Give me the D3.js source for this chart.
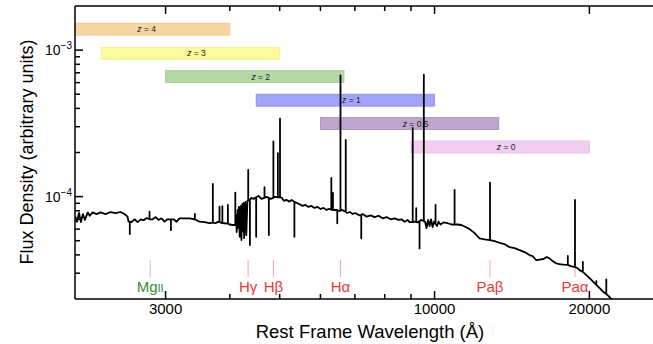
<!DOCTYPE html>
<html>
<head>
<meta charset="utf-8">
<script src="https://cdn.jsdelivr.net/npm/d3@7"></script>
<style>
  body { margin: 0; background: #fff; }
  text { font-family: "Liberation Sans", Arial, Helvetica, sans-serif; }
</style>
</head>
<body>
<div id="chart"></div>
<script>
var width = 653;
var height = 344;

// flux values below are in units of 1e-4
var fluxUnit = 1e-4;

// continuum of the spectrum (wavelength in A)
var specWave = [2000, 2018, 2036, 2054, 2072, 2091, 2118, 2136, 2164, 2203, 2242, 2293, 2345, 2398, 2451, 2495, 2530, 2541,
  2575, 2610, 2647, 2683, 2719, 2756, 2831, 2870, 2907, 2946, 2986, 3027, 3109, 3152, 3193, 3252, 3340, 3415, 3492,
  3572, 3653, 3752, 3800, 3907, 3995, 4054, 4114, 4124, 4143, 4152, 4166, 4180, 4199, 4213, 4229, 4238, 4252, 4264,
  4288, 4306, 4327, 4362, 4403, 4449, 4547, 4610, 4713, 4801, 4885, 5050, 5095, 5148, 5225, 5274, 5392, 5464, 5537,
  5612, 5688, 5765, 5843, 5922, 6003, 6084, 6166, 6222, 6394, 6507, 6610, 6657, 6754, 6847, 6930, 7006, 7148, 7245,
  7380, 7511, 7647, 7785, 7926, 8068, 8214, 8362, 8513, 8628, 8744, 8862, 8942, 9145, 9268, 9413, 9583, 9648, 9713,
  9779, 9845, 9911, 9978, 10113, 10181, 10273, 10411, 10599, 10791, 11084, 11277, 11492, 11696, 11962, 12233, 12510,
  13082, 13377, 13680, 13990, 14305, 14630, 14960, 15300, 15505, 15765, 16000, 16290, 16510, 16735, 16960, 17244,
  17500, 17810, 18380, 18960, 19137, 19750, 20110, 20480, 20940, 21320, 21800, 22080, 22480];
var specFlux = [0.74, 0.674, 0.773, 0.67, 0.76, 0.693, 0.78, 0.74, 0.78, 0.76, 0.78, 0.76, 0.785, 0.77, 0.785, 0.76, 0.73, 0.674,
  0.67, 0.70, 0.67, 0.70, 0.69, 0.715, 0.70, 0.725, 0.693, 0.711, 0.675, 0.70, 0.70, 0.674, 0.71, 0.711, 0.71, 0.70, 0.674,
  0.67, 0.66, 0.658, 0.675, 0.658, 0.645, 0.64, 0.75, 0.573, 0.81, 0.61, 0.85, 0.533, 0.865, 0.505, 0.89, 0.583, 0.905, 0.52,
  0.92, 0.546, 0.935, 0.95, 0.98, 0.965, 1.01, 0.965, 0.995, 0.965, 0.995, 0.98, 0.935, 0.95, 0.924, 0.95, 0.906, 0.887, 0.864,
  0.877, 0.85, 0.864, 0.837, 0.85, 0.823, 0.837, 0.811, 0.823, 0.811, 0.80, 0.811, 0.80, 0.773, 0.785, 0.761, 0.773, 0.745, 0.761,
  0.73, 0.745, 0.725, 0.74, 0.711, 0.725, 0.70, 0.711, 0.693, 0.70, 0.674, 0.693, 0.67, 0.674, 0.667, 0.693, 0.674, 0.61, 0.693,
  0.63, 0.70, 0.62, 0.674, 0.63, 0.674, 0.645, 0.667, 0.658, 0.645, 0.645, 0.64, 0.62, 0.60, 0.564, 0.519, 0.51,
  0.497, 0.484, 0.473, 0.452, 0.445, 0.431, 0.418, 0.399, 0.393, 0.368, 0.371, 0.375, 0.387, 0.379, 0.363, 0.35,
  0.346, 0.343, 0.335, 0.325, 0.315, 0.29, 0.273, 0.256, 0.237, 0.222, 0.209, 0.199, 0.189];

// narrow emission / absorption features: wavelength, continuum level, tip
var spikeWave = [2556, 2792, 3073, 3420, 3707, 3819, 3868, 3965, 4099, 4343, 4376, 4500, 4671, 4763, 4861, 4959, 5007,
  5340, 6300, 6345, 6470, 6563, 6720, 7203, 9069, 9213, 9350, 9531, 10045, 10938, 12818, 18158, 18751, 19422, 20628, 21571];
var spikeBase = [0.674, 0.70, 0.70, 0.70, 0.665, 0.67, 0.66, 0.655, 0.64, 0.94, 0.95, 0.99, 0.98, 0.98, 0.98, 0.99, 0.99,
  0.92, 0.815, 0.81, 0.81, 0.80, 0.79, 0.75, 0.67, 0.67, 0.68, 0.68, 0.65, 0.645, 0.505, 0.342, 0.33, 0.306, 0.25, 0.216];
var spikeTip = [0.555, 0.789, 0.59, 0.761, 1.22, 0.854, 0.86, 0.877, 1.065, 1.52, 0.467, 0.532, 1.16, 0.547, 2.38, 1.98, 3.41,
  0.532, 1.34, 1.06, 0.658, 6.71, 2.44, 0.519, 2.94, 0.833, 0.443, 6.8, 0.877, 1.11, 1.247, 0.393, 0.949, 0.359, 0.265, 0.272];

// redshift windows (rest-frame coverage)
var zLabels = ["4", "3", "2", "1", "0.5", "0"];
var zLow = [1800, 2250, 3000, 4500, 6000, 9000];
var zHigh = [4000, 5000, 6667, 10000, 13333, 20000];
var zFlux = [13.9, 9.5, 6.6, 4.55, 3.15, 2.18];
var zFill = ["#f5d7a3", "#fbfa9e", "#b5d7a6", "#a3a3f7", "#bea6cf", "#f1cdf1"];
var zEdge = ["#efc98a", "#f2ee86", "#9fca90", "#8c8cf0", "#a98dc0", "#e8bce8"];

// line identifications
var lineNames = ["Mg", "H\u03b3", "H\u03b2", "H\u03b1", "Pa\u03b2", "Pa\u03b1"];
var lineWave = [2800, 4340, 4861, 6563, 12818, 18751];
var lineGreen = [true, false, false, false, false, false];

var xMajor = [3000, 10000, 20000];
var xMinor = [4000, 5000, 6000, 7000, 8000, 9000];
var yMajor = [1e-4, 1e-3];
var yMinor = [3e-5, 4e-5, 5e-5, 6e-5, 7e-5, 8e-5, 9e-5, 2e-4, 3e-4, 4e-4, 5e-4, 6e-4, 7e-4, 8e-4, 9e-4];

var padL = 75, padT = 6, padB = 299;

var x = d3.scaleLog().domain([2000, 20000]).range([padL, 589.4]);
var y = d3.scaleLog().domain([2e-5, 2e-3]).range([padB, padT]);

var svg = d3.select("#chart")
  .append("svg")
  .attr("width", width)
  .attr("height", height);

svg.append("clipPath").attr("id", "plotclip")
  .append("rect")
  .attr("x", padL).attr("y", padT)
  .attr("width", width - padL + 10).attr("height", padB - padT);

var plot = svg.append("g").attr("clip-path", "url(#plotclip)");

// redshift bars
var bars = plot.selectAll("g.zbar")
  .data(zLabels)
  .enter()
  .append("g")
  .attr("class", "zbar");

bars.append("rect")
  .attr("x", function(d, i) { return x(zLow[i]); })
  .attr("y", function(d, i) { return y(zFlux[i] * fluxUnit) - 6; })
  .attr("width", function(d, i) { return x(zHigh[i]) - x(zLow[i]); })
  .attr("height", 12)
  .attr("fill", function(d, i) { return zFill[i]; })
  .attr("stroke", function(d, i) { return zEdge[i]; })
  .attr("stroke-width", 0.8);

var zt = bars.append("text")
  .attr("x", function(d, i) { return (x(zLow[i]) + x(zHigh[i])) / 2 + 6; })
  .attr("y", function(d, i) { return y(zFlux[i] * fluxUnit) + 3; })
  .attr("text-anchor", "middle")
  .attr("font-size", 8.5)
  .attr("fill", "#222");
zt.append("tspan").attr("font-style", "italic").text("z");
zt.append("tspan").text(function(d) { return " = " + d; });

// line markers
var marks = plot.selectAll("g.mark")
  .data(lineNames)
  .enter()
  .append("g")
  .attr("class", "mark");

marks.append("line")
  .attr("x1", function(d, i) { return x(lineWave[i]); })
  .attr("x2", function(d, i) { return x(lineWave[i]); })
  .attr("y1", 260)
  .attr("y2", 277)
  .attr("stroke", function(d, i) { return lineGreen[i] ? "#a8d4a0" : "#f4a4a4"; })
  .attr("stroke-width", 1);

var lt = marks.append("text")
  .attr("x", function(d, i) { return x(lineWave[i]); })
  .attr("y", 292)
  .attr("text-anchor", "middle")
  .attr("font-size", 15)
  .attr("fill", function(d, i) { return lineGreen[i] ? "#3a8c2e" : "#e8383a"; });
lt.append("tspan").text(function(d) { return d; });
lt.filter(function(d, i) { return lineGreen[i]; })
  .append("tspan").attr("font-size", 11).text("II");

// spectrum
var pts = specWave.map(function(w, i) { return { w: w, f: specFlux[i], o: 0 }; });
spikeWave.forEach(function(w, i) {
  pts.push({ w: w, f: spikeBase[i], o: 0 });
  pts.push({ w: w, f: spikeTip[i], o: 1 });
  pts.push({ w: w, f: spikeBase[i], o: 2 });
});
pts.sort(function(a, b) { return (a.w - b.w) || (a.o - b.o); });

var line = d3.line()
  .x(function(d) { return x(d.w); })
  .y(function(d) { return y(d.f * fluxUnit); });

plot.append("path")
  .datum(pts)
  .attr("d", line)
  .attr("fill", "none")
  .attr("stroke", "#000")
  .attr("stroke-width", 1.8)
  .attr("stroke-linejoin", "round");

// axes frame
var frame = svg.append("g").attr("stroke", "#000").attr("stroke-width", 1.5);
frame.append("line").attr("x1", padL).attr("x2", width).attr("y1", padT).attr("y2", padT);
frame.append("line").attr("x1", padL).attr("x2", width).attr("y1", padB).attr("y2", padB);
frame.append("line").attr("x1", padL).attr("x2", padL).attr("y1", padT).attr("y2", padB);

// ticks, pointing inward
function xTicks(vals, len) {
  frame.selectAll(null).data(vals).enter().append("line")
    .attr("x1", function(d) { return x(d); }).attr("x2", function(d) { return x(d); })
    .attr("y1", padB).attr("y2", padB - len);
  frame.selectAll(null).data(vals).enter().append("line")
    .attr("x1", function(d) { return x(d); }).attr("x2", function(d) { return x(d); })
    .attr("y1", padT).attr("y2", padT + len);
}
function yTicks(vals, len) {
  frame.selectAll(null).data(vals).enter().append("line")
    .attr("x1", padL).attr("x2", padL + len)
    .attr("y1", function(d) { return y(d); }).attr("y2", function(d) { return y(d); });
}
xTicks(xMajor, 8);
xTicks(xMinor, 5);
yTicks(yMajor, 8);
yTicks(yMinor, 5);

svg.selectAll("text.xt")
  .data(xMajor)
  .enter()
  .append("text")
  .attr("class", "xt")
  .attr("x", function(d) { return x(d); })
  .attr("y", 314)
  .attr("text-anchor", "middle")
  .attr("font-size", 15)
  .text(function(d) { return d; });

var yt = svg.selectAll("text.yt")
  .data(yMajor)
  .enter()
  .append("text")
  .attr("class", "yt")
  .attr("x", 72)
  .attr("y", function(d) { return y(d) + 5; })
  .attr("text-anchor", "end")
  .attr("font-size", 14);
yt.append("tspan").text("10");
yt.append("tspan").attr("font-size", 10).attr("dy", -6)
  .text(function(d) { return "\u2212" + Math.round(-Math.log10(d)); });

svg.append("text")
  .attr("x", 370)
  .attr("y", 338)
  .attr("text-anchor", "middle")
  .attr("font-size", 18.5)
  .text("Rest Frame Wavelength (\u00c5)");

svg.append("text")
  .attr("transform", "translate(33,152) rotate(-90)")
  .attr("text-anchor", "middle")
  .attr("font-size", 18)
  .text("Flux Density (arbitrary units)");
</script>
</body>
</html>
